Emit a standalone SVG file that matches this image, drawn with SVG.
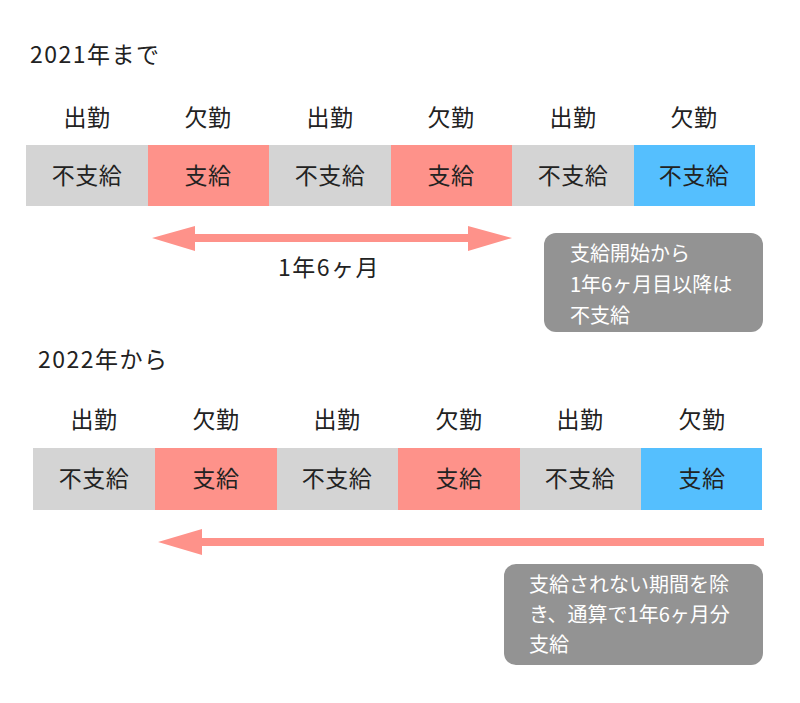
<svg xmlns="http://www.w3.org/2000/svg" width="800" height="703" viewBox="0 0 800 703">
<defs>
<style>
text{font-family:"Noto Sans CJK JP","Noto Sans",sans-serif;fill:#222;dominant-baseline:central}
.t{font-size:23px;letter-spacing:1.5px}
.c{font-size:23px;text-anchor:middle;letter-spacing:0.5px}
.n{font-size:20px;fill:#fff}
.g{fill:#d4d4d4}.r{fill:#fe928a}.b{fill:#55bffe}
.box{fill:#939393}
.arr{fill:#fe928a}
</style>
</defs>
<rect width="800" height="703" fill="#fff"/>
<g id="title1"><text class="t" x="30" y="53">2021年まで</text></g>
<g id="row1">
<g id="r1c1"><text class="c" x="87" y="116">出勤</text><rect class="g" x="26" y="145" width="122" height="61"/><text class="c" x="87" y="174">不支給</text></g>
<g id="r1c2"><text class="c" x="208" y="116">欠勤</text><rect class="r" x="148" y="145" width="121" height="61"/><text class="c" x="208" y="174">支給</text></g>
<g id="r1c3"><text class="c" x="330" y="116">出勤</text><rect class="g" x="269" y="145" width="122" height="61"/><text class="c" x="330" y="174">不支給</text></g>
<g id="r1c4"><text class="c" x="451" y="116">欠勤</text><rect class="r" x="391" y="145" width="121" height="61"/><text class="c" x="451" y="174">支給</text></g>
<g id="r1c5"><text class="c" x="573" y="116">出勤</text><rect class="g" x="512" y="145" width="122" height="61"/><text class="c" x="573" y="174">不支給</text></g>
<g id="r1c6"><text class="c" x="694" y="116">欠勤</text><rect class="b" x="634" y="145" width="121" height="61"/><text class="c" x="694" y="174">不支給</text></g>
</g>
<g id="note1"><rect class="box" x="544" y="233" width="219" height="99" rx="12"/>
<text class="n" x="570" y="252">支給開始から</text>
<text class="n" x="570" y="283">1年6ヶ月目以降は</text>
<text class="n" x="570" y="314">不支給</text></g>
<g id="title2"><text class="t" x="38" y="358">2022年から</text></g>
<g id="row2">
<g id="r2c1"><text class="c" x="94" y="418">出勤</text><rect class="g" x="33" y="448" width="122" height="62"/><text class="c" x="94" y="477">不支給</text></g>
<g id="r2c2"><text class="c" x="216" y="418">欠勤</text><rect class="r" x="155" y="448" width="122" height="62"/><text class="c" x="216" y="477">支給</text></g>
<g id="r2c3"><text class="c" x="337" y="418">出勤</text><rect class="g" x="277" y="448" width="121" height="62"/><text class="c" x="337" y="477">不支給</text></g>
<g id="r2c4"><text class="c" x="459" y="418">欠勤</text><rect class="r" x="398" y="448" width="122" height="62"/><text class="c" x="459" y="477">支給</text></g>
<g id="r2c5"><text class="c" x="580" y="418">出勤</text><rect class="g" x="520" y="448" width="121" height="62"/><text class="c" x="580" y="477">不支給</text></g>
<g id="r2c6"><text class="c" x="702" y="418">欠勤</text><rect class="b" x="641" y="448" width="121" height="62"/><text class="c" x="702" y="477">支給</text></g>
</g>
<g id="note2"><rect class="box" x="504" y="564" width="259" height="101" rx="12"/>
<text class="n" x="529" y="583">支給されない期間を除</text>
<text class="n" x="529" y="613">き、通算で1年6ヶ月分</text>
<text class="n" x="529" y="643">支給</text></g>
<g id="connectors">
<path class="arr" d="M152,238 L195,226 L195,234 L468,234 L468,226 L512,238 L468,251 L468,242 L195,242 L195,251 Z"/>
<path class="arr" d="M158,542 L202,529 L202,538 L764,538 L764,546 L202,546 L202,555 Z"/>
</g>
<text class="c" x="329" y="266" style="letter-spacing:1.5px">1年6ヶ月</text>
</svg>
